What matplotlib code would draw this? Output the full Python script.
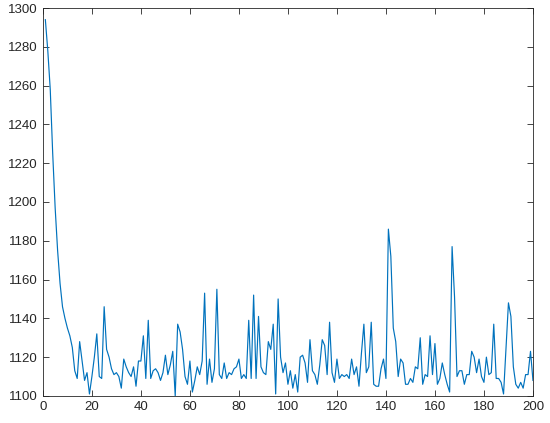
import numpy as np
import matplotlib
matplotlib.use("Agg")
import matplotlib.pyplot as plt

# iteration index and objective value
iters = np.arange(1, 201)
vals = [
    1294, 1278, 1258, 1225, 1197, 1175, 1158, 1146, 1140, 1135,
    1131, 1125, 1113, 1109, 1128, 1118, 1108, 1112, 1101, 1110,
    1120, 1132, 1110, 1109, 1146, 1124, 1120, 1114, 1111, 1112,
    1110, 1104, 1119, 1115, 1112, 1110, 1115, 1105, 1118, 1118,
    1131, 1109, 1139, 1109, 1113, 1114, 1112, 1108, 1112, 1121,
    1111, 1116, 1123, 1100, 1137, 1133, 1124, 1110, 1106, 1118,
    1102, 1108, 1115, 1111, 1118, 1153, 1106, 1119, 1107, 1114,
    1155, 1111, 1109, 1117, 1109, 1112, 1111, 1114, 1115, 1119,
    1109, 1111, 1109, 1139, 1109, 1152, 1109, 1141, 1115, 1112,
    1111, 1128, 1124, 1137, 1101, 1150, 1120, 1112, 1117, 1106,
    1113, 1104, 1111, 1102, 1120, 1121, 1117, 1107, 1129, 1113,
    1111, 1106, 1116, 1129, 1126, 1111, 1138, 1112, 1107, 1119,
    1109, 1111, 1110, 1111, 1109, 1119, 1111, 1115, 1105, 1122,
    1137, 1112, 1115, 1138, 1106, 1105, 1105, 1114, 1119, 1109,
    1186, 1172, 1135, 1128, 1110, 1119, 1117, 1106, 1106, 1109,
    1107, 1115, 1114, 1130, 1106, 1111, 1110, 1131, 1111, 1127,
    1106, 1109, 1117, 1111, 1106, 1102, 1177, 1151, 1110, 1113,
    1113, 1106, 1111, 1111, 1123, 1120, 1112, 1119, 1110, 1107,
    1120, 1111, 1112, 1137, 1109, 1109, 1107, 1101, 1125, 1148,
    1141, 1115, 1106, 1104, 1107, 1104, 1111, 1111, 1123, 1108,
]

plt.rcParams['font.family'] = ['Liberation Sans', 'DejaVu Sans']

fig = plt.figure(figsize=(5.5, 4.23), dpi=100)
ax = fig.add_axes([0.078, 0.064, 0.891, 0.917])
ax.plot(iters, vals, color="#0072BD", linewidth=0.85)

ax.set_xlim(0, 200)
ax.set_ylim(1100, 1300)
ax.set_xticks(np.arange(0, 201, 20))
ax.set_yticks(np.arange(1100, 1301, 20))
ax.tick_params(direction="in", length=4, width=0.6, color="#262626",
               labelcolor="#262626", labelsize=9.5, top=True, right=True)
for s in ax.spines.values():
    s.set_color("#262626")
    s.set_linewidth(0.6)

fig.savefig("out.png", dpi=100)
